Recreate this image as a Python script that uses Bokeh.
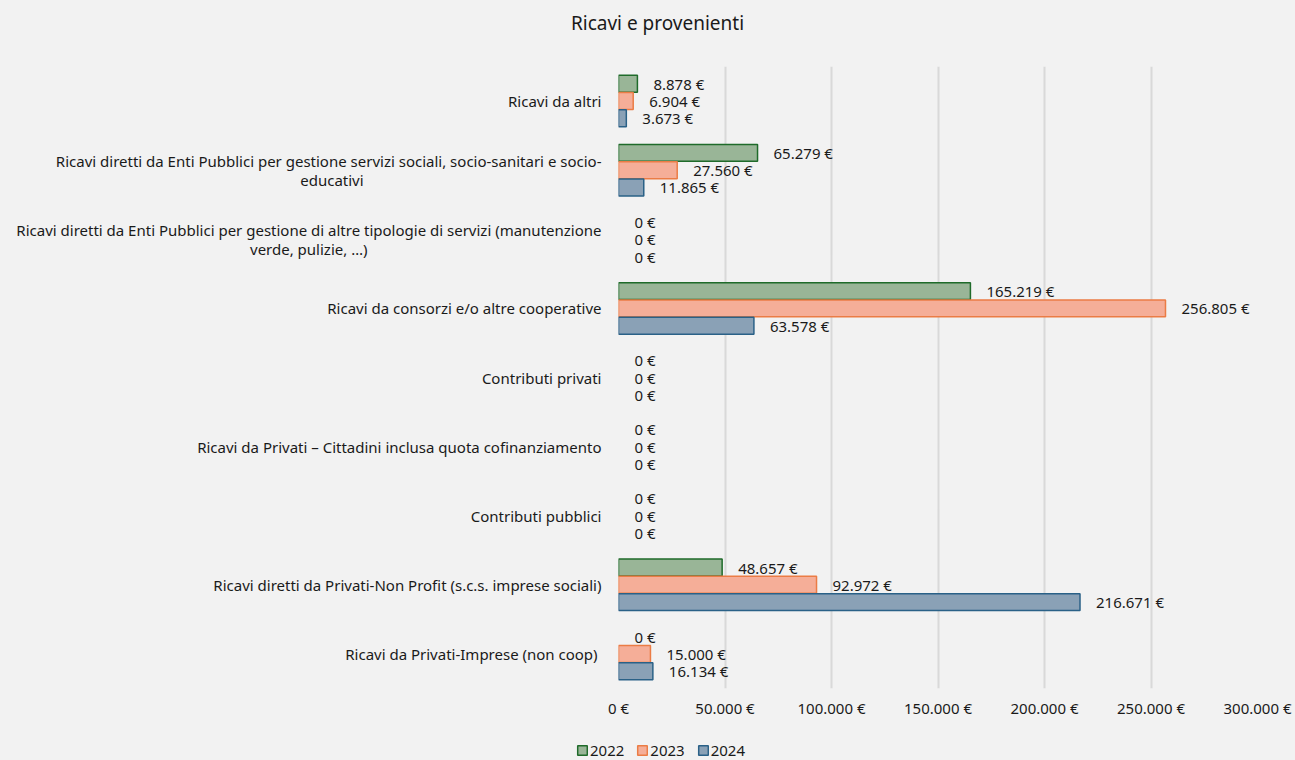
from bokeh.plotting import figure
from bokeh.layouts import column, row
from bokeh.models import ColumnDataSource, FactorRange, Range1d, Legend, LegendItem, FixedTicker, Label
from bokeh.transform import dodge
from bokeh.core.properties import value
from bokeh.embed import file_html
from bokeh.resources import INLINE

NB = "\u00a0"
categories = [
    "Ricavi da altri",
    "Ricavi diretti da Enti Pubblici per gestione servizi sociali, socio-sanitari e socio-\neducativi" + NB * 61,
    "Ricavi diretti da Enti Pubblici per gestione di altre tipologie di servizi (manutenzione\nverde, pulizie, …)" + NB * 60,
    "Ricavi da consorzi e/o altre cooperative",
    "Contributi privati",
    "Ricavi da Privati – Cittadini inclusa quota cofinanziamento",
    "Contributi pubblici",
    "Ricavi diretti da Privati-Non Profit (s.c.s. imprese sociali)",
    "Ricavi  da Privati-Imprese (non coop)",
]
years = ["2022", "2023", "2024"]
v2022 = [8878, 65279, 0, 165219, 0, 0, 0, 48657, 0]
v2023 = [6904, 27560, 0, 256805, 0, 0, 0, 92972, 15000]
v2024 = [3673, 11865, 0, 63578, 0, 0, 0, 216671, 16134]
ticks = [0, 50000, 100000, 150000, 200000, 250000, 300000]
tick_labels = ["0 €", "50.000 €", "100.000 €", "150.000 €", "200.000 €", "250.000 €", "300.000 €"]
title_text = "Ricavi e provenienti"

FONT = "Noto Sans"
TXT = "#1a1a1a"
BG = "#f2f2f2"
FS = "15px"

def eur(v):
    return f"{v:,}".replace(",", ".") + " €"

def strip(h):
    f = figure(width=1295, height=h, x_range=Range1d(0, 1), y_range=Range1d(0, 1),
               x_axis_type=None, y_axis_type=None, output_backend="svg", toolbar_location=None,
               min_border_left=0, min_border_right=0, min_border_top=0, min_border_bottom=0)
    f.background_fill_color = BG
    f.border_fill_color = BG
    f.outline_line_color = None
    f.grid.visible = False
    return f

# title strip
p0 = strip(66)
p0.add_layout(Label(x=657, y=44, x_units="screen", y_units="screen", text=title_text,
                    text_align="center", text_baseline="middle",
                    text_font=FONT, text_font_size="19px", text_color=TXT))

factors = list(reversed(categories))
p = figure(width=1295, height=666,
           y_range=FactorRange(factors=factors, range_padding=0),
           x_range=Range1d(0, 300000),
           output_backend="svg", toolbar_location=None,
           min_border_left=618, min_border_right=38,
           min_border_top=0, min_border_bottom=44)
p.background_fill_color = BG
p.border_fill_color = BG
p.outline_line_color = None

styles = [
    ("#99b597", "#1f6b2a", 0.25),
    ("#f5ae98", "#eb7c45", 0.0),
    ("#8aa1b6", "#2a6187", -0.25),
]
series = [v2022, v2023, v2024]
for yr, vals, (fill, line, off) in zip(years, series, styles):
    src = ColumnDataSource(dict(cat=categories, val=vals, lab=[eur(v) for v in vals],
                                la=[0.0 if v == 0 else 1.0 for v in vals]))
    p.hbar(y=dodge("cat", off, range=p.y_range), left=0, right="val", height=0.245,
           fill_color=fill, line_color=line, line_alpha="la", line_width=1.5, source=src)
    p.text(x="val", y=dodge("cat", off, range=p.y_range), text="lab", source=src,
           x_offset=16, text_baseline="middle", text_align="left",
           text_font=value(FONT), text_font_size=FS, text_color=TXT)

for ax in (p.xaxis, p.yaxis):
    ax.axis_line_color = None
    ax.major_tick_line_color = None
    ax.minor_tick_line_color = None
    ax.major_tick_out = 0
    ax.major_tick_in = 0
    ax.minor_tick_out = 0
    ax.minor_tick_in = 0
    ax.major_label_text_font = FONT
    ax.major_label_text_font_size = FS
    ax.major_label_text_color = TXT

p.xaxis.ticker = FixedTicker(ticks=ticks)
p.xaxis.major_label_overrides = {t: l for t, l in zip(ticks, tick_labels)}
p.xaxis.major_label_standoff = 9
p.yaxis.major_label_standoff = 17
p.yaxis.major_label_text_line_height = 0.95

p.xgrid.ticker = FixedTicker(ticks=ticks)
p.xgrid.grid_line_color = "#d9d9d9"
p.xgrid.grid_line_width = 2
p.ygrid.grid_line_color = None

# legend strip
p2 = strip(28)
items = []
for yr, (fill, line, off) in zip(years, styles):
    r = p2.hbar(y=[-5], left=[0], right=[0], height=0.1, fill_color=fill, line_color=line, line_width=1.5)
    items.append(LegendItem(label=yr, renderers=[r]))
legend = Legend(items=items, orientation="horizontal", location=(576, 0),
                padding=0, margin=0, spacing=12, label_standoff=2,
                glyph_width=12, glyph_height=12, label_height=14,
                label_text_font=FONT, label_text_font_size=FS, label_text_color=TXT,
                background_fill_alpha=0, border_line_color=None)
p2.add_layout(legend)

bgstyle = {"background-color": BG}
layout = column(row(p0, styles=bgstyle), p, row(p2, styles=bgstyle), spacing=0, styles=bgstyle)
open("out.html", "w").write(file_html(layout, INLINE))
